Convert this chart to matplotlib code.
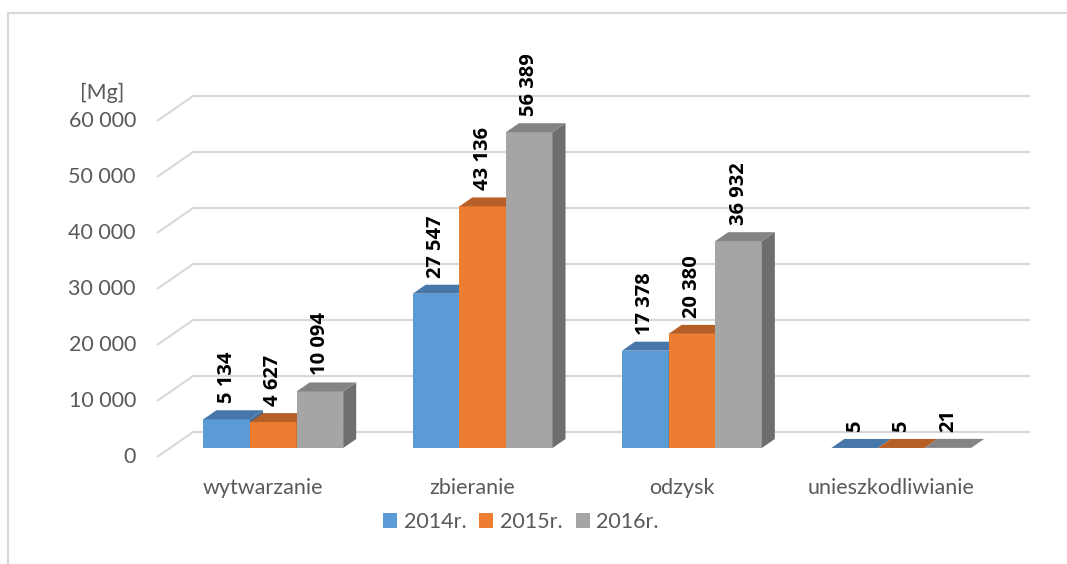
import matplotlib
matplotlib.use("Agg")
import matplotlib.pyplot as plt
from matplotlib.patches import Polygon, Patch
from matplotlib.lines import Line2D

# ---- data ----
categories = ["wytwarzanie", "zbieranie", "odzysk", "unieszkodliwianie"]
series_names = ["2014r.", "2015r.", "2016r."]
v2014 = [5134, 27547, 17378, 5]
v2015 = [4627, 43136, 20380, 5]
v2016 = [10094, 56389, 36932, 21]
yticks = [0, 10000, 20000, 30000, 40000, 50000, 60000]
unit_label = "[Mg]"

series_values = [v2014, v2015, v2016]
front_colors = ["#5B9BD5", "#ED7D31", "#A5A5A5"]
top_colors = ["#4677A8", "#B65F26", "#848484"]
side_colors = ["#3E6B98", "#A85720", "#6E6E6E"]

FONT = "Lato"
plt.rcParams["font.family"] = [FONT, "DejaVu Sans"]

W, H = 1067, 564
fig = plt.figure(figsize=(W / 100, H / 100), dpi=100)
ax = fig.add_axes([0, 0, 1, 1])
ax.axis("off")

# pixel anchors for the projection
PX_X = 209.3      # pixels per category
PX_Y = 0.0056     # pixels per unit
X0 = 273.3        # pixel x of first category centre
Y0 = 448.0        # pixel y (from top) of value 0 at bar front plane
ax.set_xlim((0 - X0) / PX_X, (W - X0) / PX_X)
ax.set_ylim((Y0 - H) / PX_Y, Y0 / PX_Y)


def px_x(p):
    return (p - X0) / PX_X


def ddx(p):
    return p / PX_X


def ddy(p):
    return p / PX_Y


grid_c = "#D9D9D9"
text_c = "#595959"
FS = 15.5

# depth of bars
DX, DY = 13, 9

# gridlines (front diagonal + back wall)
for v in yticks:
    yf = v - ddy(9)
    yb = v + ddy(16)
    ax.plot([px_x(157), px_x(193), px_x(1030)], [yf, yb, yb],
            color=grid_c, lw=1.6, zorder=1, solid_capstyle="butt")
    ax.text(px_x(136), yf, f"{v:,}".replace(",", " "), ha="right",
            va="center", fontsize=FS, color=text_c)

ax.text(px_x(102), ddy(Y0 - 93), unit_label, ha="center", va="center",
        fontsize=FS, color=text_c)

w = 46.6 / PX_X
xs = list(range(len(categories)))
for j, vals in enumerate(series_values):
    lefts = [i + (j - 1.5) * w for i in xs]
    ax.bar(lefts, vals, width=w, align="edge", color=front_colors[j],
           zorder=3 + j, linewidth=0)
    for l, v in zip(lefts, vals):
        top = Polygon([(l, v), (l + w, v), (l + w + ddx(DX), v + ddy(DY)),
                       (l + ddx(DX), v + ddy(DY))], closed=True,
                      facecolor=top_colors[j], edgecolor="none", zorder=3 + j)
        side = Polygon([(l + w, 0), (l + w + ddx(DX), ddy(DY)),
                        (l + w + ddx(DX), v + ddy(DY)), (l + w, v)],
                       closed=True, facecolor=side_colors[j],
                       edgecolor="none", zorder=3 + j)
        ax.add_patch(side)
        ax.add_patch(top)
        ax.annotate(f"{v:,}".replace(",", " "), (l + w / 2, v),
                    xytext=(0, 16 * 0.72), textcoords="offset points",
                    rotation=90, ha="center", va="bottom", fontsize=14.5,
                    fontweight="bold", family=["Open Sans", "DejaVu Sans"],
                    color="black", zorder=10)

for i, c in zip(xs, categories):
    ax.text(i - ddx(10), ddy(Y0 - 488), c, ha="center", va="center",
            fontsize=FS, color=text_c)

handles = [Patch(facecolor=front_colors[j], edgecolor="none")
           for j in range(3)]
leg = ax.legend(handles, series_names, loc="center",
                bbox_to_anchor=(521 / W, 1 - 522 / H), ncol=3, frameon=False,
                fontsize=FS, handlelength=0.65, handleheight=0.65,
                handletextpad=0.3, columnspacing=0.6, borderpad=0)
for t in leg.get_texts():
    t.set_color(text_c)

# chart frame (left and top edges)
fig.add_artist(Line2D([7.5 / W, 7.5 / W], [0, 1 - 12.5 / H],
                      color=grid_c, lw=1.5))
fig.add_artist(Line2D([7.5 / W, 1], [1 - 12.5 / H, 1 - 12.5 / H],
                      color=grid_c, lw=1.5))

fig.savefig("out.png", dpi=100)
